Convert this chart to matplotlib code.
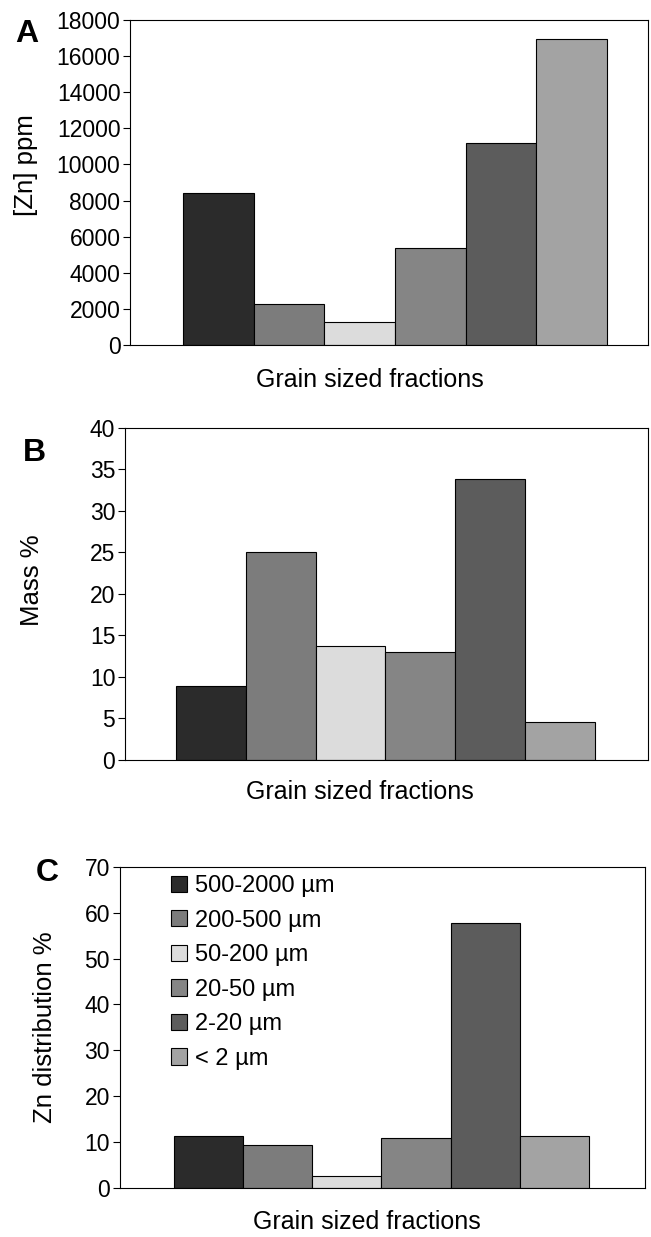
import matplotlib
matplotlib.use('Agg')
import matplotlib.pyplot as plt

plt.rcParams['font.family'] = ['Liberation Sans', 'DejaVu Sans']

fractions = ['500-2000 µm', '200-500 µm', '50-200 µm', '20-50 µm', '2-20 µm', '< 2 µm']
colors = ['#2b2b2b', '#7c7c7c', '#dcdcdc', '#858585', '#5c5c5c', '#a3a3a3']
zn_ppm = [8400, 2300, 1300, 5400, 11200, 16950]
mass_pct = [8.9, 25.0, 13.7, 13.0, 33.9, 4.5]
zn_dist = [11.3, 9.2, 2.5, 10.8, 57.8, 11.2]

fig = plt.figure(figsize=(6.51, 12.37), dpi=100)

# letter, values, ylabel, axes rect, ylim, tick step, xlim, ylabel pos, xlabel pos, letter pos (fig px)
panels = [
    ('A', zn_ppm, '[Zn] ppm', [0.200, 0.721, 0.795, 0.263], (0, 18000), 2000, (-1.25, 6.08),
     (-0.201, 0.554), (0.464, -0.108), (15, 42)),
    ('B', mass_pct, 'Mass %', [0.192, 0.386, 0.803, 0.268], (0, 40), 5, (-1.23, 6.26),
     (-0.178, 0.54), (0.45, -0.099), (23, 461)),
    ('C', zn_dist, 'Zn distribution %', [0.184, 0.040, 0.807, 0.259], (0, 70), 10, (-1.28, 6.31),
     (-0.143, 0.50), (0.47, -0.109), (36, 881)),
]

for letter, vals, ylabel, rect, ylim, step, xlim, ylpos, xlpos, lpos in panels:
    ax = fig.add_axes(rect)
    x = list(range(len(vals)))
    bars = ax.bar(x, vals, width=1.0, color=colors, edgecolor='black', linewidth=0.8)
    ax.set_xlim(*xlim)
    ax.set_ylim(*ylim)
    ax.set_yticks(range(ylim[0], ylim[1] + 1, step))
    ax.set_xticks([])
    ax.tick_params(axis='y', labelsize=16.5, direction='out', length=5, width=0.8, pad=2)
    for s in ax.spines.values():
        s.set_linewidth(0.8)
    ax.set_ylabel(ylabel, fontsize=18.5)
    ax.yaxis.set_label_coords(*ylpos)
    ax.yaxis.label.set_va('center')
    ax.set_xlabel('Grain sized fractions', fontsize=18)
    ax.xaxis.set_label_coords(*xlpos)
    ax.xaxis.label.set_va('center')
    fig.text(lpos[0] / 651, 1 - lpos[1] / 1237, letter, fontsize=23,
             fontweight='bold', ha='left', va='baseline')
    if letter == 'C':
        ax.legend(bars, fractions, loc='upper left', bbox_to_anchor=(0.097, 0.975),
                  frameon=False, fontsize=17, handlelength=0.68, handleheight=0.68,
                  handletextpad=0.34, labelspacing=0.53, borderaxespad=0, borderpad=0)

fig.savefig('out.png', dpi=100)
